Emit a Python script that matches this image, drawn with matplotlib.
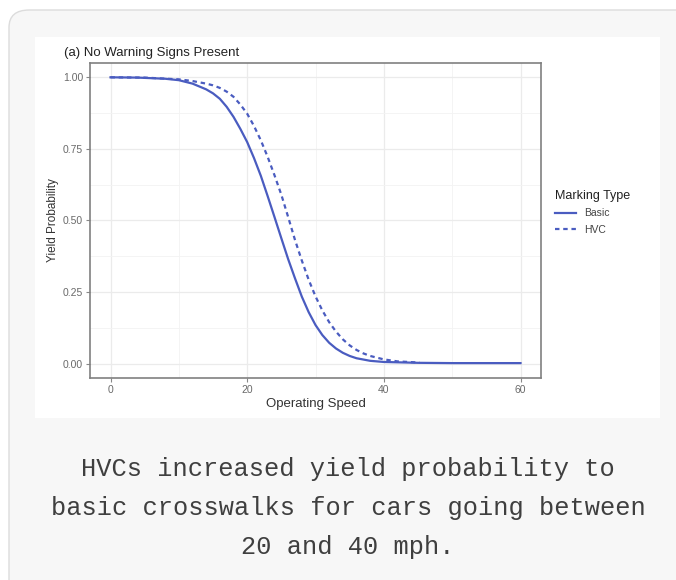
import matplotlib
matplotlib.use("Agg")
import matplotlib.pyplot as plt
from matplotlib.patches import FancyBboxPatch, Rectangle
from matplotlib.lines import Line2D

# Data
basic_speed = [0, 4, 8, 10, 12, 14, 15, 16, 17, 18, 19, 20, 21, 22, 23, 24, 25, 26, 27,
               28, 29, 30, 31, 32, 33, 34, 35, 36, 38, 40, 45, 50, 60]
basic_prob = [1.000, 0.999, 0.995, 0.990, 0.978, 0.958, 0.944, 0.925, 0.897, 0.862, 0.820,
              0.774, 0.718, 0.656, 0.585, 0.512, 0.438, 0.365, 0.298, 0.234, 0.180, 0.135,
              0.100, 0.073, 0.053, 0.038, 0.027, 0.019, 0.010, 0.006, 0.003, 0.002, 0.002]

hvc_speed = [0, 5, 10, 12, 14, 15, 16, 17, 18, 19, 20, 21, 22, 23, 24, 25, 26, 27, 28, 29,
             30, 31, 32, 33, 34, 35, 36, 37, 38, 40, 42, 45.2]
hvc_prob = [1.000, 0.999, 0.993, 0.987, 0.978, 0.972, 0.963, 0.950, 0.932, 0.905, 0.873,
            0.830, 0.780, 0.722, 0.658, 0.590, 0.512, 0.432, 0.360, 0.293, 0.235, 0.186,
            0.145, 0.112, 0.085, 0.064, 0.048, 0.036, 0.027, 0.015, 0.008, 0.004]

x_ticks = [0, 20, 40, 60]
y_ticks = [0.00, 0.25, 0.50, 0.75, 1.00]
y_tick_labels = ["0.00", "0.25", "0.50", "0.75", "1.00"]
series_names = ["Basic", "HVC"]

title = "(a) No Warning Signs Present"
caption = "HVCs increased yield probability to\nbasic crosswalks for cars going between\n20 and 40 mph."

W, H = 676, 580
fig = plt.figure(figsize=(W / 100, H / 100), dpi=100)
fig.patch.set_facecolor("white")

# card background
card = FancyBboxPatch((9 / W, -20 / H), (W + 20) / W, (H - 10 + 20) / H,
                      boxstyle="round,pad=0,rounding_size=0.03",
                      transform=fig.transFigure, facecolor="#f7f7f7",
                      edgecolor="#dcdcdc", linewidth=1.0, zorder=0)
fig.patches.append(card)
# white chart image region
fig.patches.append(Rectangle((35 / W, 1 - 418 / H), (660 - 35) / W, (418 - 37) / H,
                             transform=fig.transFigure, facecolor="white",
                             edgecolor="none", zorder=1))

plt.rcParams['font.family'] = ['Liberation Sans', 'DejaVu Sans']

ax = fig.add_axes([90 / W, 1 - 378 / H, (541 - 90) / W, (378 - 63) / H])
ax.set_zorder(2)
ax.set_facecolor("white")

col = "#4a5cc0"
dash = (0, (2.0, 1.7))
ax.plot(basic_speed, basic_prob, color=col, lw=1.6, solid_joinstyle="round", label=series_names[0])
ax.plot(hvc_speed, hvc_prob, color=col, lw=1.6, linestyle=dash, label=series_names[1])

ax.set_xlim(-3, 63)
ax.set_ylim(-0.05, 1.05)
ax.set_xticks(x_ticks)
ax.set_xticklabels([str(v) for v in x_ticks])
ax.set_yticks(y_ticks)
ax.set_yticklabels(y_tick_labels)
ax.set_xticks([10, 30, 50], minor=True)
ax.set_yticks([0.125, 0.375, 0.625, 0.875], minor=True)
ax.grid(which="major", color="#ebebeb", lw=0.9)
ax.grid(which="minor", color="#f3f3f3", lw=0.6)
ax.set_axisbelow(True)
ax.tick_params(axis="both", which="major", length=3, width=0.8, color="#888888",
               labelsize=7.5, labelcolor="#6a6a6a", pad=2)
ax.tick_params(axis="both", which="minor", length=0)
for s in ax.spines.values():
    s.set_color("#808080")
    s.set_linewidth(1.2)

ax.set_xlabel("Operating Speed", fontsize=9.5, color="#333333", labelpad=2)
ax.set_ylabel("Yield Probability", fontsize=8.5, color="#333333", labelpad=3)
ax.set_title(title, loc="left", fontsize=9.5, color="#222222", pad=5, x=-0.058)

handles = [Line2D([0], [0], color=col, lw=1.6),
           Line2D([0], [0], color=col, lw=1.6, linestyle=dash)]
leg = fig.legend(handles, series_names, title="Marking Type", loc="upper left",
                 bbox_to_anchor=(551 / W, 1 - 186 / H), frameon=False,
                 fontsize=7.5, title_fontsize=9, handlelength=2.0,
                 labelspacing=0.6, handletextpad=0.8, borderaxespad=0)
leg._legend_box.align = "left"
leg.get_title().set_color("#222222")
for t in leg.get_texts():
    t.set_color("#444444")

fig.text(0.5 + 10 / W, 1 - 508 / H, caption, ha="center", va="center",
         family=["Liberation Mono", "DejaVu Sans Mono"], fontsize=18.3, color="#3f3f3f",
         linespacing=1.78, zorder=3)

fig.savefig("out.png", dpi=100, facecolor=fig.get_facecolor())
